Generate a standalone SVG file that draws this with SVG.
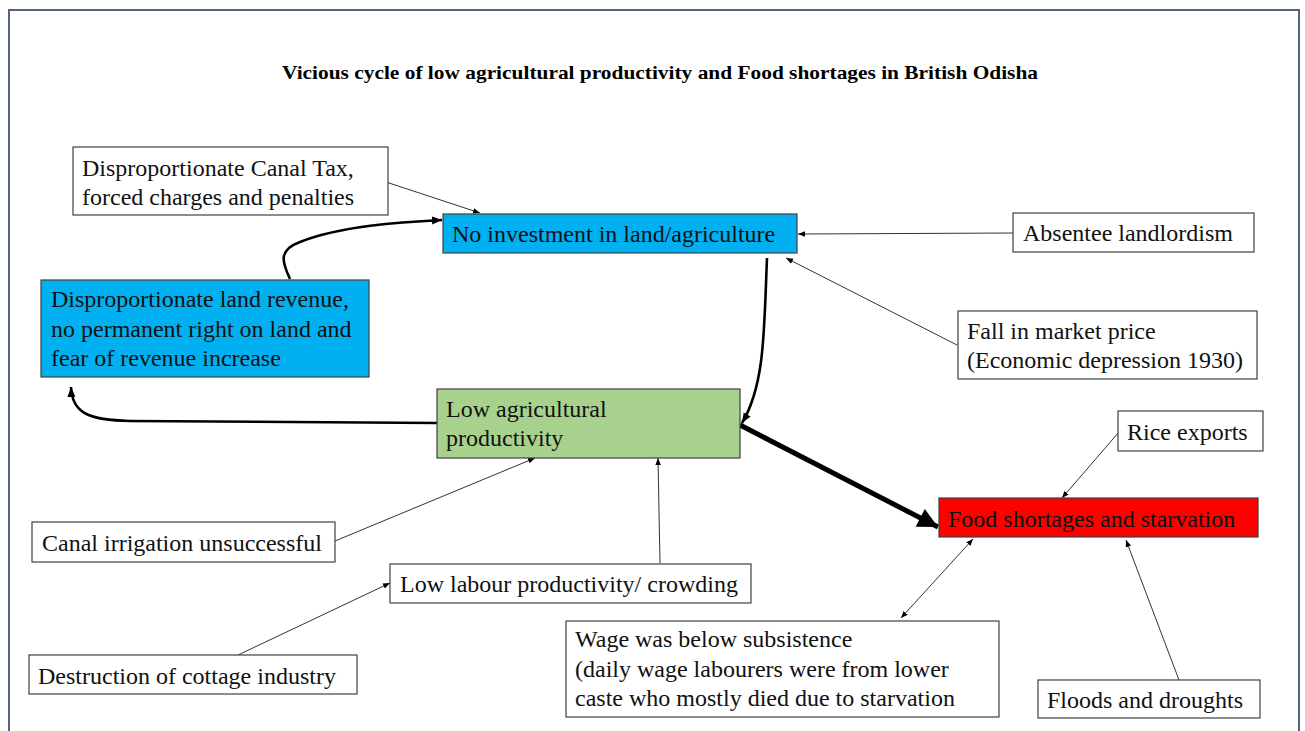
<svg xmlns="http://www.w3.org/2000/svg" width="1305" height="731" viewBox="0 0 1305 731">
<defs>
<marker id="ah" viewBox="0 0 10 10" refX="10" refY="5" markerWidth="7" markerHeight="7" markerUnits="userSpaceOnUse" orient="auto-start-reverse"><path d="M0,1 L10,5 L0,9 z" fill="#000"/></marker>
<marker id="ahb" viewBox="0 0 10 10" refX="10" refY="5" markerWidth="10" markerHeight="10" markerUnits="userSpaceOnUse" orient="auto"><path d="M0,1 L10,5 L0,9 z" fill="#000"/></marker>
<marker id="ahbig" viewBox="0 0 10 10" refX="10" refY="5" markerWidth="22" markerHeight="20" markerUnits="userSpaceOnUse" orient="auto"><path d="M0,0 L10,5 L0,10 z" fill="#000"/></marker>
</defs>
<style>
.box{stroke:#404040;stroke-width:1.2}
.w{fill:#fff}
.t{font-family:"Liberation Serif","Times New Roman",serif;font-size:24px;fill:#111}
.thin{fill:none;stroke:#333;stroke-width:1}
.thick{fill:none;stroke:#000;stroke-width:2.6}
</style>
<rect x="0" y="0" width="1305" height="731" fill="#fff"/>
<path d="M9,740 L9,10 L1299,10 L1299,740" fill="none" stroke="#56657f" stroke-width="2"/>
<text x="660" y="79" text-anchor="middle" font-family="Liberation Serif, serif" font-weight="bold" font-size="19" textLength="756" lengthAdjust="spacingAndGlyphs">Vicious  cycle of low agricultural  productivity  and Food shortages in British  Odisha</text>

<g id="connectors">
<line class="thin" x1="386" y1="182" x2="480" y2="213" marker-end="url(#ah)"/>
<line class="thin" x1="1013" y1="233" x2="798" y2="234" marker-end="url(#ah)"/>
<line class="thin" x1="957" y1="345" x2="786" y2="258" marker-end="url(#ah)"/>
<path class="thick" d="M767,258 C764,330 765,385 742,423" marker-end="url(#ahb)"/>
<path class="thick" d="M290,279 C282,262 278,250 300,242 C340,226 400,222 442,220" marker-end="url(#ahb)"/>
<path class="thick" d="M437,423 L130,421 C90,420 72,414 71,387" marker-end="url(#ahb)"/>
<line x1="740" y1="425" x2="938" y2="527" stroke="#000" stroke-width="5" marker-end="url(#ahbig)"/>
<line class="thin" x1="1119" y1="432" x2="1062" y2="498" marker-end="url(#ah)"/>
<line class="thin" x1="335" y1="541" x2="535" y2="458" marker-end="url(#ah)"/>
<line class="thin" x1="660" y1="563" x2="658" y2="458" marker-end="url(#ah)"/>
<line class="thin" x1="238" y1="655" x2="390" y2="583" marker-end="url(#ah)"/>
<line class="thin" x1="901" y1="618" x2="973" y2="539" marker-start="url(#ah)" marker-end="url(#ah)"/>
<line class="thin" x1="1179" y1="680" x2="1126" y2="540" marker-end="url(#ah)"/>
</g>

<g id="canal-tax"><rect class="box w" x="73" y="147" width="315" height="68"/><text class="t" x="82" y="176">Disproportionate Canal Tax,</text><text class="t" x="82" y="205">forced charges and penalties</text></g>
<g id="no-investment"><rect class="box" fill="#00B0F0" x="443" y="214" width="354" height="39"/><text class="t" x="452" y="242">No investment in land/agriculture</text></g>
<g id="absentee"><rect class="box w" x="1013" y="213" width="241" height="39"/><text class="t" x="1023" y="241">Absentee landlordism</text></g>
<g id="land-revenue"><rect class="box" fill="#00B0F0" x="41" y="280" width="328" height="97"/><text class="t" x="51" y="307">Disproportionate land revenue,</text><text class="t" x="51" y="337">no permanent right  on land and</text><text class="t" x="51" y="366">fear of revenue increase</text></g>
<g id="market-price"><rect class="box w" x="958" y="311" width="299" height="68"/><text class="t" x="967" y="339">Fall in market price</text><text class="t" x="967" y="368">(Economic depression 1930)</text></g>
<g id="low-agri"><rect class="box" fill="#A9D18E" x="437" y="389" width="303" height="69"/><text class="t" x="446" y="417">Low agricultural</text><text class="t" x="446" y="446">productivity</text></g>
<g id="rice-exports"><rect class="box w" x="1118" y="411" width="145" height="40"/><text class="t" x="1127" y="440">Rice exports</text></g>
<g id="food-shortages"><rect class="box" fill="#FF0000" x="939" y="498" width="319" height="39"/><text class="t" x="948" y="527">Food shortages and starvation</text></g>
<g id="canal-irrigation"><rect class="box w" x="32" y="522" width="303" height="40"/><text class="t" x="42" y="551">Canal irrigation  unsuccessful</text></g>
<g id="low-labour"><rect class="box w" x="390" y="564" width="361" height="39"/><text class="t" x="400" y="592">Low labour productivity/ crowding</text></g>
<g id="wage"><rect class="box w" x="566" y="621" width="433" height="96"/><text class="t" x="575" y="647">Wage was below subsistence</text><text class="t" x="575" y="677">(daily  wage labourers were from lower</text><text class="t" x="575" y="706">caste who mostly  died due to starvation</text></g>
<g id="cottage"><rect class="box w" x="29" y="655" width="328" height="39"/><text class="t" x="38" y="684">Destruction of cottage industry</text></g>
<g id="floods"><rect class="box w" x="1038" y="680" width="222" height="38"/><text class="t" x="1047" y="708">Floods and droughts</text></g>
</svg>
